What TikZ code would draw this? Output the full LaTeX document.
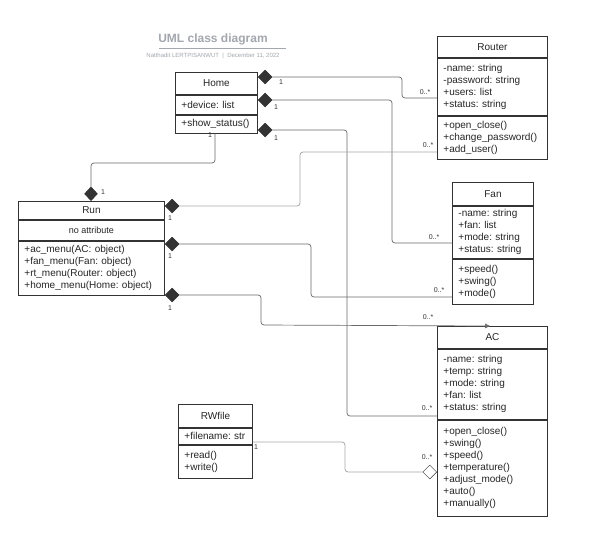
\documentclass[tikz,border=0pt]{standalone}
\usepackage{fontspec}
\setmainfont{Liberation Sans}
\usetikzlibrary{shapes.geometric,arrows.meta}
\definecolor{ink}{HTML}{333333}
\definecolor{wire}{HTML}{6A6A6A}
\definecolor{softwire}{HTML}{A8A8A8}
\definecolor{titlegray}{HTML}{A3A7AE}
\frenchspacing
\begin{document}
\begin{tikzpicture}[x=1pt,y=-1pt,
  cls/.style={draw=ink, line width=0.9pt, inner sep=0pt, font=\fontsize{10}{12}\selectfont, text=black!85},
  hdr/.style={cls, align=center},
  sec/.style={cls, align=left, inner xsep=6pt, inner ysep=0pt},
  dia/.style={diamond, draw=ink, fill=ink, inner sep=0pt, minimum width=14pt, minimum height=14pt},
  hollow/.style={dia, fill=white},
  wire/.style={draw=wire, line width=0.7pt, rounded corners=3pt},
  softline/.style={wire, draw=softwire, line width=0.8pt},
  lbl/.style={font=\fontsize{7}{8}\selectfont, text=black!80, inner sep=0pt}]
\useasboundingbox[fill=white] (0,0) rectangle (610,533);

% title block
\node[font=\bfseries\fontsize{12}{14}\selectfont, text=titlegray] (title) at (213,39) {UML class diagram};
\draw[titlegray, line width=0.6pt] (159,48) -- (286,48);
\node[font=\fontsize{6}{7}\selectfont, text=titlegray] (byline) at (213,56) {Natthadit LERTPISANWUT \ | \ December 11, 2022};

% Home
\node[hdr, minimum width=82pt, minimum height=22pt, anchor=north west] (homeH) at (175,72) {Home};
\node[sec, text width=70pt, minimum height=19pt, anchor=north] (homeA) at (homeH.south) {+device: list};
\node[sec, text width=70pt, minimum height=18pt, anchor=north] (homeM) at (homeA.south) {+show\_status()};

% Router
\node[hdr, minimum width=110pt, minimum height=21pt, anchor=north west] (routerH) at (437,36) {Router};
\node[sec, text width=98pt, minimum height=57pt, anchor=north] (routerA) at (routerH.south) {-name: string\\-password: string\\+users: list\\+status: string};
\node[sec, text width=98pt, minimum height=43pt, anchor=north] (routerM) at (routerA.south) {+open\_close()\\+change\_password()\\+add\_user()};

% Run
\node[hdr, minimum width=146pt, minimum height=18pt, anchor=north west] (runH) at (18,201) {Run};
\node[hdr, minimum width=146pt, minimum height=20pt, anchor=north, font=\fontsize{9}{12}\selectfont] (runA) at (runH.south) {no attribute};
\node[sec, text width=134pt, minimum height=54pt, anchor=north] (runM) at (runA.south) {+ac\_menu(AC: object)\\+fan\_menu(Fan: object)\\+rt\_menu(Router: object)\\+home\_menu(Home: object)};

% Fan
\node[hdr, minimum width=81pt, minimum height=23pt, anchor=north west] (fanH) at (452,182) {Fan};
\node[sec, text width=69pt, minimum height=52pt, anchor=north] (fanA) at (fanH.south) {-name: string\\+fan: list\\+mode: string\\+status: string};
\node[sec, text width=69pt, minimum height=45pt, anchor=north] (fanM) at (fanA.south) {+speed()\\+swing()\\+mode()};

% AC
\node[hdr, minimum width=110pt, minimum height=22pt, anchor=north west] (acH) at (437,326) {AC};
\node[sec, text width=98pt, minimum height=70pt, anchor=north] (acA) at (acH.south) {-name: string\\+temp: string\\+mode: string\\+fan: list\\+status: string};
\node[sec, text width=98pt, minimum height=96pt, anchor=north] (acM) at (acA.south) {+open\_close()\\+swing()\\+speed()\\+temperature()\\+adjust\_mode()\\+auto()\\+manually()};

% RWfile
\node[hdr, minimum width=74pt, minimum height=23pt, anchor=north west] (rwH) at (178,404) {RWfile};
\node[sec, text width=62pt, minimum height=16pt, anchor=north] (rwA) at (rwH.south) {+filename: str};
\node[sec, text width=62pt, minimum height=33pt, anchor=north] (rwM) at (rwA.south) {+read()\\+write()};

% composition diamonds
\node[dia, anchor=west] (d1) at (homeH.east |- 0,77) {};
\node[dia, anchor=west] (d2) at (homeH.east |- 0,100) {};
\node[dia, anchor=west] (d3) at (homeH.east |- 0,130) {};
\node[dia, anchor=west] (d4) at (runH.east |- 0,206) {};
\node[dia, anchor=west] (d5) at (runH.east |- 0,244) {};
\node[dia, anchor=west] (d6) at (runH.east |- 0,295) {};
\node[dia, anchor=south, minimum width=13pt] (d7) at (runH.north -| 91,0) {};
\node[hollow, anchor=east] (d8) at (acM.west |- 0,472) {};

% associations
\draw[wire] (d1.east) -- (402,77) -- (402,98) -- (routerA.west |- 0,98);
\draw[wire] (d2.east) -- (392,100) -- (392,243) -- (fanA.west |- 0,243);
\draw[wire] (d3.east) -- (347,130) -- (347,416) -- (acA.west |- 0,416);
\draw[softline] (d4.east) -- (300,206) -- (300,152) -- (routerM.west |- 0,152);
\draw[wire] (d5.east) -- (311,244) -- (311,297) -- (fanM.west |- 0,297);
\draw[wire, -{Triangle[length=5pt,width=4.5pt]}] (d6.east) -- (261,295) -- (261,325) -- (acH.north -| 490,0);
\draw[wire] (homeM.south -| 215,0) -- (215,163) -- (91,163) -- (d7.north);
\draw[softline] (rwA.east |- 0,442) -- (345,442) -- (345,472) -- (d8.west);

% multiplicities
\node[lbl] (m1) at (281,82) {1};
\node[lbl] (m2) at (276,107) {1};
\node[lbl] (m3) at (276,138) {1};
\node[lbl] (m4) at (170,218) {1};
\node[lbl] (m5) at (170,256) {1};
\node[lbl] (m6) at (170,308) {1};
\node[lbl] (m7) at (210,135) {1};
\node[lbl] (m8) at (103,192) {1};
\node[lbl] (m9) at (256,447) {1};
\node[lbl] (n1) at (425,92) {0..*};
\node[lbl] (n2) at (428,145) {0..*};
\node[lbl] (n3) at (434,237) {0..*};
\node[lbl] (n4) at (439,290) {0..*};
\node[lbl] (n5) at (428,317) {0..*};
\node[lbl] (n6) at (427,408) {0..*};
\node[lbl] (n7) at (427,457) {0..*};
\end{tikzpicture}
\end{document}
